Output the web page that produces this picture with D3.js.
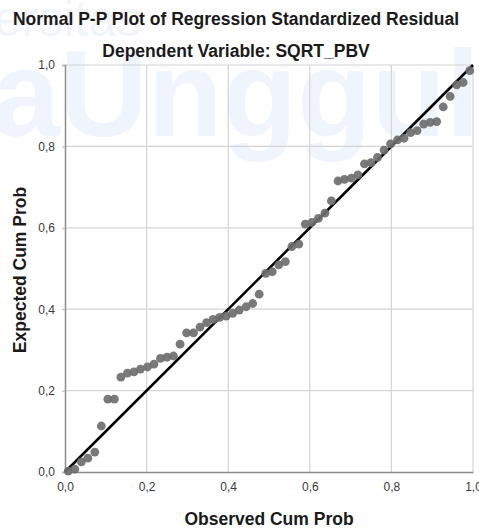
<!DOCTYPE html>
<html>
<head>
<meta charset="utf-8">
<script src="https://cdn.jsdelivr.net/npm/d3@7/dist/d3.min.js"></script>
<style>
  html, body { margin: 0; padding: 0; background: #ffffff; }
  svg { display: block; }
</style>
</head>
<body>
<div id="chart"></div>
<script>
// ---- Data ----
const titleText = "Normal P-P Plot of Regression Standardized Residual";
const subtitleText = "Dependent Variable: SQRT_PBV";
const xAxisTitle = "Observed Cum Prob";
const yAxisTitle = "Expected Cum Prob";
const tickValues = [0, 0.2, 0.4, 0.6, 0.8, 1.0];
const tickLabels = ["0,0", "0,2", "0,4", "0,6", "0,8", "1,0"];

const observedCumProb = [
  0.008, 0.024, 0.040, 0.056, 0.073, 0.089, 0.105, 0.121, 0.137, 0.153,
  0.169, 0.185, 0.202, 0.218, 0.234, 0.250, 0.266, 0.282, 0.298, 0.315,
  0.331, 0.347, 0.363, 0.379, 0.395, 0.411, 0.427, 0.444, 0.460, 0.476,
  0.492, 0.508, 0.524, 0.540, 0.556, 0.573, 0.589, 0.605, 0.621, 0.637,
  0.653, 0.669, 0.685, 0.702, 0.718, 0.734, 0.750, 0.766, 0.782, 0.798,
  0.815, 0.831, 0.847, 0.863, 0.879, 0.895, 0.911, 0.927, 0.944, 0.960,
  0.976, 0.992
];
const expectedCumProb = [
  0.002, 0.007, 0.025, 0.034, 0.049, 0.113, 0.179, 0.179, 0.233, 0.243,
  0.246, 0.253, 0.258, 0.265, 0.279, 0.282, 0.285, 0.314, 0.342, 0.342,
  0.356, 0.367, 0.375, 0.380, 0.383, 0.390, 0.398, 0.406, 0.414, 0.437,
  0.488, 0.492, 0.509, 0.517, 0.554, 0.560, 0.609, 0.613, 0.623, 0.636,
  0.666, 0.715, 0.719, 0.722, 0.730, 0.757, 0.760, 0.773, 0.791, 0.806,
  0.816, 0.820, 0.834, 0.839, 0.855, 0.859, 0.861, 0.897, 0.923, 0.951,
  0.957, 0.986
];
const referenceLine = [[0, 0], [1, 1]];

// ---- Layout ----
const W = 479, H = 531;
const plot = { left: 65, right: 473, top: 65, bottom: 472 };
const font = "'Liberation Sans', Arial, sans-serif";

const svg = d3.select("#chart").append("svg")
  .attr("width", W).attr("height", H);

// faint watermark
const wm = svg.append("g").attr("pointer-events", "none");
wm.append("text").attr("x", -6).attr("y", 36)
  .attr("font-family", font).attr("font-size", 50)
  .attr("fill", "#f1f4f8").text("ersitas");
wm.append("text").attr("x", -8).attr("y", 136)
  .attr("font-family", font).attr("font-weight", "bold").attr("font-size", 122)
  .attr("fill", "#f0f5fd").text("aUnggul");

const x = d3.scaleLinear().domain([0, 1]).range([plot.left, plot.right]);
const y = d3.scaleLinear().domain([0, 1]).range([plot.bottom, plot.top]);

// grid lines
const grid = svg.append("g");
grid.selectAll("line.gx").data(tickValues.slice(1)).enter().append("line")
  .attr("x1", d => x(d)).attr("x2", d => x(d))
  .attr("y1", plot.top).attr("y2", plot.bottom)
  .attr("stroke", "#d4d4d4").attr("stroke-width", 1.2);
grid.selectAll("line.gy").data(tickValues.slice(1)).enter().append("line")
  .attr("x1", plot.left).attr("x2", plot.right)
  .attr("y1", d => y(d)).attr("y2", d => y(d))
  .attr("stroke", "#d4d4d4").attr("stroke-width", 1.2);

// axes
const xAxis = d3.axisBottom(x).tickValues(tickValues)
  .tickFormat((d, i) => tickLabels[i]).tickSize(0).tickPadding(10);
const yAxis = d3.axisLeft(y).tickValues(tickValues)
  .tickFormat((d, i) => tickLabels[i]).tickSize(3).tickPadding(7);

const gx = svg.append("g").attr("transform", `translate(0,${plot.bottom})`).call(xAxis);
const gy = svg.append("g").attr("transform", `translate(${plot.left},0)`).call(yAxis);
[gx, gy].forEach(g => {
  g.select(".domain").attr("stroke", "#8c8c8c").attr("stroke-width", 1.5);
  g.selectAll(".tick line").attr("stroke", "#b0b0b0");
  g.selectAll(".tick text").attr("font-family", font).attr("font-size", 12).attr("fill", "#3a3a3a");
});

// reference line
svg.append("path")
  .datum(referenceLine)
  .attr("d", d3.line().x(d => x(d[0])).y(d => y(d[1])))
  .attr("stroke", "#000").attr("stroke-width", 2.6).attr("fill", "none");

// points
svg.append("g").selectAll("circle")
  .data(observedCumProb.map((v, i) => [v, expectedCumProb[i]]))
  .enter().append("circle")
  .attr("cx", d => x(d[0])).attr("cy", d => y(d[1]))
  .attr("r", 4.4)
  .attr("fill", "#6e6e6e").attr("fill-opacity", 0.92);

// titles
svg.append("text").attr("x", 236).attr("y", 25)
  .attr("text-anchor", "middle").attr("font-family", font)
  .attr("font-weight", "bold").attr("font-size", 17.5).attr("fill", "#1a1a1a")
  .text(titleText);
svg.append("text").attr("x", 236).attr("y", 57)
  .attr("text-anchor", "middle").attr("font-family", font)
  .attr("font-weight", "bold").attr("font-size", 17.5).attr("fill", "#1a1a1a")
  .text(subtitleText);
svg.append("text").attr("x", 269).attr("y", 525)
  .attr("text-anchor", "middle").attr("font-family", font)
  .attr("font-weight", "bold").attr("font-size", 17.5).attr("fill", "#1a1a1a")
  .text(xAxisTitle);
svg.append("text")
  .attr("transform", `translate(26,270) rotate(-90)`)
  .attr("text-anchor", "middle").attr("font-family", font)
  .attr("font-weight", "bold").attr("font-size", 17.5).attr("fill", "#1a1a1a")
  .text(yAxisTitle);
</script>
</body>
</html>
